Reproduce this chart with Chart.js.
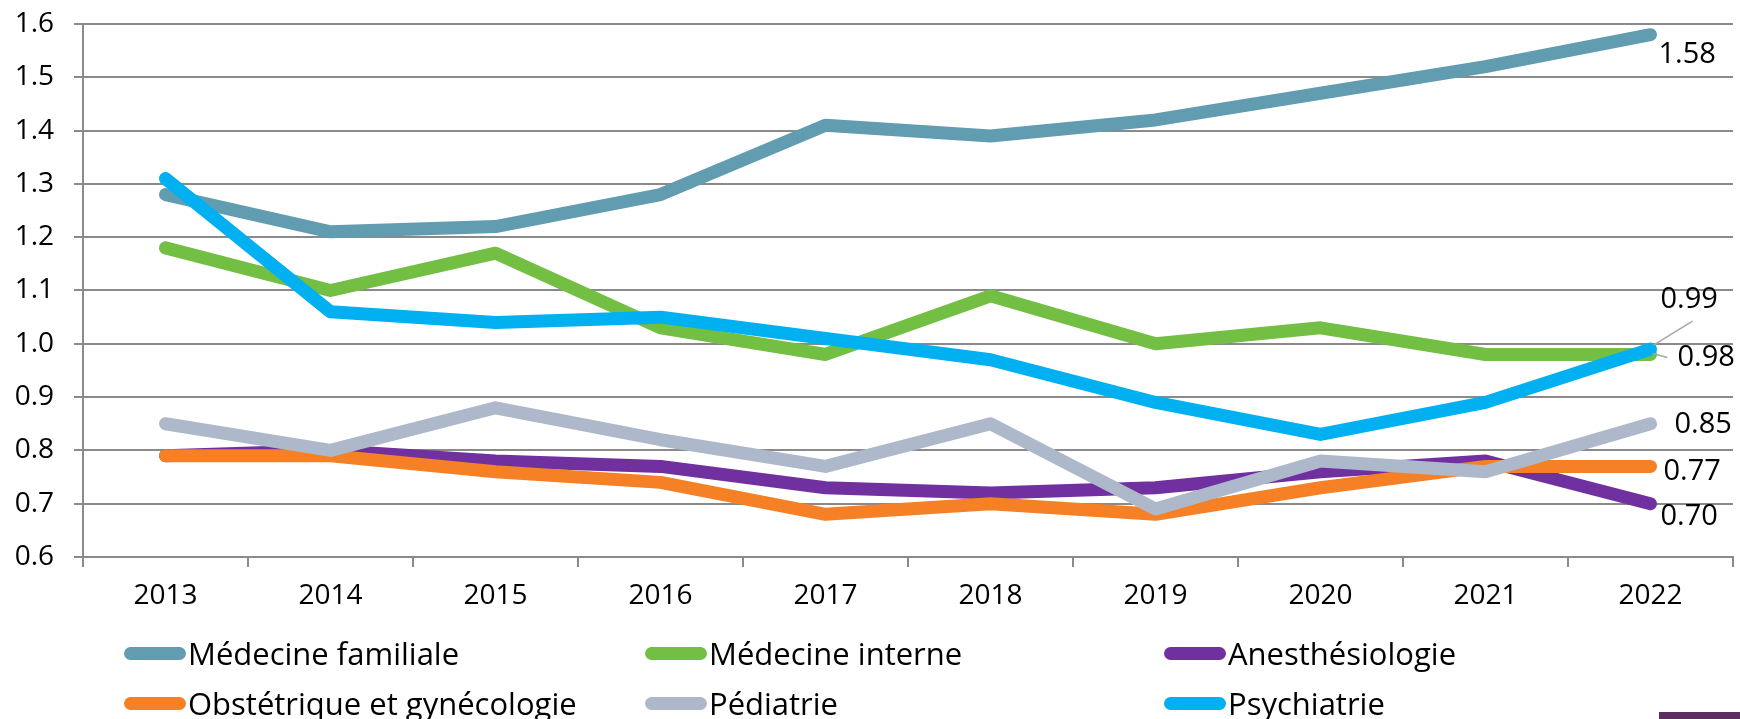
<!DOCTYPE html>
<html>
<head>
<meta charset="utf-8">
<script src="https://cdn.jsdelivr.net/npm/chart.js@4.4.0/dist/chart.umd.min.js"></script>
<style>
html, body { margin: 0; padding: 0; background: #fff; }
#wrap { position: relative; width: 1740px; height: 719px; overflow: hidden; }
#legend .item { position: absolute; height: 40px; display: flex; align-items: center;
  font-family: 'Open Sans', sans-serif; font-size: 31px; color: #000; white-space: nowrap; }
#legend .sw { width: 62px; height: 13px; border-radius: 7px; margin-right: 2px; }
#bar { position: absolute; left: 1659px; top: 712px; width: 81px; height: 7px; background: #5e2d5f; }
</style>
</head>
<body>
<div id="wrap">
  <canvas id="chart" width="1740" height="719"></canvas>
  <div id="legend"></div>
  <div id="bar"></div>
</div>
<script>
const years = ['2013', '2014', '2015', '2016', '2017', '2018', '2019', '2020', '2021', '2022'];
const seriesNames = ['Médecine familiale', 'Médecine interne', 'Anesthésiologie',
  'Obstétrique et gynécologie', 'Pédiatrie', 'Psychiatrie'];

const familiale   = [1.28, 1.21, 1.22, 1.28, 1.41, 1.39, 1.42, 1.47, 1.52, 1.58];
const interne     = [1.18, 1.10, 1.17, 1.03, 0.98, 1.09, 1.00, 1.03, 0.98, 0.98];
const anesthesio  = [0.79, 0.80, 0.78, 0.77, 0.73, 0.72, 0.73, 0.76, 0.78, 0.70];
const obstetrique = [0.79, 0.79, 0.76, 0.74, 0.68, 0.70, 0.68, 0.73, 0.77, 0.77];
const pediatrie   = [0.85, 0.80, 0.88, 0.82, 0.77, 0.85, 0.69, 0.78, 0.76, 0.85];
const psychiatrie = [1.31, 1.06, 1.04, 1.05, 1.01, 0.97, 0.89, 0.83, 0.89, 0.99];

const colors = ['#619cb0', '#72bf44', '#7030a0', '#f58025', '#adb9ca', '#00b0f0'];

// where the end value sits relative to the last point (dx, dy), plus optional leader line
const labelOffsets = [
  { dx: 8, dy: 20 },
  { dx: 27, dy: 3, leader: [[2, -1], [17, 3]] },
  { dx: 10, dy: 13 },
  { dx: 13, dy: 5 },
  { dx: 24, dy: 1 },
  { dx: 10, dy: -49, leader: [[3, -4], [42, -28]] }
];

const allSeries = [familiale, interne, anesthesio, obstetrique, pediatrie, psychiatrie];
const gridColor = '#8a8a8a';
const axisFont = { family: "'Open Sans', sans-serif", size: 28 };

const endLabels = {
  id: 'endLabels',
  afterDatasetsDraw(chart) {
    const ctx = chart.ctx;
    ctx.save();
    ctx.font = "29px 'Open Sans', sans-serif";
    ctx.fillStyle = '#000';
    ctx.textBaseline = 'middle';
    ctx.textAlign = 'left';
    chart.data.datasets.forEach((ds, i) => {
      const meta = chart.getDatasetMeta(i);
      const pt = meta.data[meta.data.length - 1];
      const off = labelOffsets[i];
      if (off.leader) {
        ctx.strokeStyle = '#a6a6a6';
        ctx.lineWidth = 1.5;
        ctx.beginPath();
        ctx.moveTo(pt.x + off.leader[0][0], pt.y + off.leader[0][1]);
        ctx.lineTo(pt.x + off.leader[1][0], pt.y + off.leader[1][1]);
        ctx.stroke();
      }
      const v = ds.data[ds.data.length - 1];
      ctx.fillText(v.toFixed(2), pt.x + off.dx, pt.y + off.dy);
    });
    ctx.restore();
  }
};

const ctx = document.getElementById('chart').getContext('2d');
new Chart(ctx, {
  type: 'line',
  data: {
    labels: years,
    datasets: allSeries.map((d, i) => ({
      label: seriesNames[i],
      data: d,
      borderColor: colors[i],
      backgroundColor: colors[i],
      borderWidth: 13,
      borderCapStyle: 'round',
      borderJoinStyle: 'round',
      pointRadius: 0,
      tension: 0,
      fill: false,
      order: allSeries.length - 1 - i // later series drawn on top
    }))
  },
  options: {
    responsive: false,
    animation: false,
    devicePixelRatio: 1,
    layout: { padding: { top: 24, right: 7, bottom: 92, left: 0 } },
    plugins: {
      legend: { display: false },
      tooltip: { enabled: false }
    },
    scales: {
      x: {
        offset: true,
        grid: { offset: true, drawOnChartArea: false, tickLength: 10, color: gridColor, lineWidth: 2 },
        border: { color: gridColor, width: 2 },
        ticks: { font: axisFont, color: '#000', padding: 12, maxRotation: 0 },
        afterFit: s => { s.height = 70; s.paddingLeft = 0; s.paddingRight = 0; }
      },
      y: {
        min: 0.6,
        max: 1.6,
        grid: { color: gridColor, lineWidth: 2, tickLength: 9 },
        border: { color: gridColor, width: 2 },
        ticks: { stepSize: 0.1, font: axisFont, color: '#000', padding: 20,
          callback: v => Number(v).toFixed(1) },
        afterFit: s => { s.width = 83; s.paddingTop = 0; s.paddingBottom = 0; }
      }
    }
  },
  plugins: [endLabels]
});

// legend in three fixed columns, two rows
const legendCols = [124, 645, 1164];
const legendRows = [653, 703];
const legend = document.getElementById('legend');
seriesNames.forEach((name, i) => {
  const item = document.createElement('div');
  item.className = 'item';
  item.style.left = legendCols[i % 3] + 'px';
  item.style.top = (legendRows[Math.floor(i / 3)] - 20) + 'px';
  const sw = document.createElement('span');
  sw.className = 'sw';
  sw.style.background = colors[i];
  item.appendChild(sw);
  item.appendChild(document.createTextNode(name));
  legend.appendChild(item);
});
</script>
</body>
</html>
